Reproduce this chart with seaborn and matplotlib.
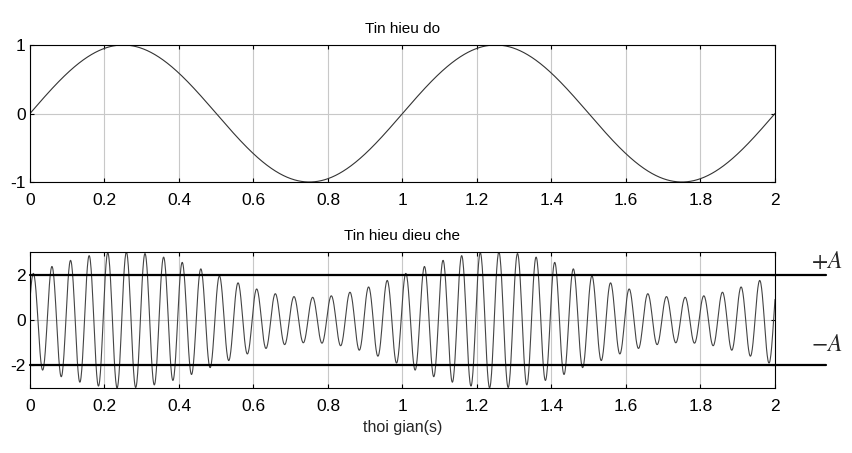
import numpy as np
import pandas as pd
import matplotlib
matplotlib.use("Agg")
import matplotlib.pyplot as plt
import seaborn as sns

# ---- data ----
time_range_s = [0.0, 2.0]
message_freq_hz = [1.0]
message_amp = [1.0]
carrier_freq_hz = [20.0]
carrier_phase_rad = [-1.1]
carrier_offset = [2.0]          # envelope = offset + message
ref_levels = [2.0, -2.0]
ref_labels = ["$+A$", "$-A$"]
xticks = [0, 0.2, 0.4, 0.6, 0.8, 1, 1.2, 1.4, 1.6, 1.8, 2]
xtick_labels = ["0", "0.2", "0.4", "0.6", "0.8", "1", "1.2", "1.4", "1.6", "1.8", "2"]
top_yticks = [-1, 0, 1]
bot_yticks = [-2, 0, 2]
titles = ["Tin hieu do", "Tin hieu dieu che"]
xlabel = "thoi gian(s)"

t = np.linspace(time_range_s[0], time_range_s[1], 2001)
msg = message_amp[0] * np.sin(2 * np.pi * message_freq_hz[0] * t)
mod = (carrier_offset[0] + msg) * np.cos(2 * np.pi * carrier_freq_hz[0] * t + carrier_phase_rad[0])
df = pd.DataFrame({"t": t, "msg": msg, "mod": mod})

sns.set_theme(style="white")
plt.rcParams["font.family"] = ["Liberation Sans", "DejaVu Sans"]
plt.rcParams["mathtext.fontset"] = "stix"

fig = plt.figure(figsize=(8.53, 4.53), dpi=100)
W, H = 853, 453
ax1 = fig.add_axes([30 / W, 1 - 182 / H, 745 / W, 137 / H])
ax2 = fig.add_axes([30 / W, 1 - 388 / H, 745 / W, 136 / H])

sns.lineplot(data=df, x="t", y="msg", ax=ax1, color="#333333", linewidth=0.8)
sns.lineplot(data=df, x="t", y="mod", ax=ax2, color="#444444", linewidth=0.8)

for ax, yt, ylim, title in [(ax1, top_yticks, (-1, 1), titles[0]),
                            (ax2, bot_yticks, (-3, 3), titles[1])]:
    ax.set_xlim(time_range_s)
    ax.set_ylim(ylim)
    ax.set_xticks(xticks)
    ax.set_xticklabels(xtick_labels)
    ax.set_yticks(yt)
    ax.set_yticklabels([str(v) for v in yt])
    ax.grid(True, color="#c8c8c8", linewidth=0.8)
    ax.set_axisbelow(True)
    ax.set_xlabel("")
    ax.set_ylabel("")
    ax.set_title(title, fontsize=11, pad=9, color="black")
    ax.tick_params(direction="in", length=3, width=0.8, labelsize=12.5,
                   top=True, right=True, bottom=True, left=True, colors="black")
    ax.tick_params(axis="x", pad=8)
    ax.tick_params(axis="y", pad=3)
    for s in ax.spines.values():
        s.set_color("black")
        s.set_linewidth(0.8)

ax2.set_xlabel(xlabel, fontsize=11.5, labelpad=4)

# reference levels +A / -A extending past the axes
for lvl, lab, dy in zip(ref_levels, ref_labels, [0.55, 0.9]):
    ax2.plot([time_range_s[0], 2.137], [lvl, lvl], color="black", linewidth=1.6,
             clip_on=False, zorder=5)
    ax2.text(2.096, lvl + dy, lab, fontsize=17, ha="left", va="center",
             clip_on=False)

fig.savefig("out.png", dpi=100)
